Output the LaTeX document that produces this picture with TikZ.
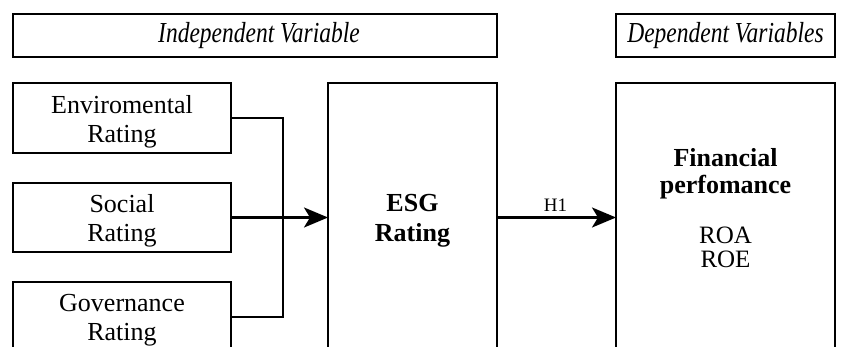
\documentclass[tikz,border=0pt]{standalone}
\usepackage{fontspec}
\setmainfont{Liberation Serif}
\newfontfamily\condit[FakeStretch=0.81]{Liberation Serif}
\usetikzlibrary{arrows.meta}
\tikzset{
  box/.style={draw, line width=2.3pt, inner sep=0pt, outer sep=0pt, fill=white},
  txt/.style={anchor=base, inner sep=0pt, font=\fontsize{26}{29}\selectfont},
  btxt/.style={anchor=base, inner sep=0pt, font=\fontsize{26}{29}\selectfont\bfseries},
  htxt/.style={anchor=base, inner sep=0pt, font=\fontsize{29}{32}\selectfont\condit\itshape},
  conn/.style={line width=2.3pt},
  arr/.style={line width=2.3pt, -{Stealth[length=24pt,width=20pt,inset=6pt]}}
}
\begin{document}
\begin{tikzpicture}[x=1pt,y=-1pt]
\useasboundingbox (0,0) rectangle (846,347);
\clip (0,0) rectangle (846,347);
% header boxes
\node[box, minimum width=484pt, minimum height=43pt] (ind) at (255,35.5) {};
\node[box, minimum width=219pt, minimum height=43pt] (dep) at (725.5,35.5) {};
\node[htxt] (indt) at (259,43) {Independent Variable};
\node[htxt] (dept) at (725.5,43) {Dependent Variables};
% left boxes
\node[box, minimum width=218pt, minimum height=70pt] (env) at (122,118) {};
\node[box, minimum width=218pt, minimum height=69pt] (soc) at (122,217.5) {};
\node[box, minimum width=218pt, minimum height=70pt] (gov) at (122,317) {};
\node[txt] (env1) at (122,114) {Enviromental};
\node[txt] (env2) at (122,143) {Rating};
\node[txt] (soc1) at (122,213) {Social};
\node[txt] (soc2) at (122,242) {Rating};
\node[txt] (gov1) at (122,312) {Governance};
\node[txt] (gov2) at (122,341) {Rating};
% ESG box
\node[box, minimum width=169pt, minimum height=269pt] (esg) at (412.5,217.5) {};
\node[btxt] (esg1) at (412.5,212) {ESG};
\node[btxt] (esg2) at (412.5,242) {Rating};
% Financial box
\node[box, minimum width=219pt, minimum height=269pt] (fin) at (725.5,217.5) {};
\node[btxt] (fin1) at (725.5,167) {Financial};
\node[btxt] (fin2) at (725.5,194) {perfomance};
\node[txt, font=\fontsize{25}{28}\selectfont] (fin3) at (725.5,244) {ROA};
\node[txt, font=\fontsize{25}{28}\selectfont] (fin4) at (725.5,268) {ROE};
% connectors
\coordinate (jn) at (283,217.5);
\draw[conn] (env.east) -| (jn) |- (gov.east);
\draw[arr] (soc.east) -- (esg.west);
\draw[arr] (esg.east) -- (fin.west);
\node[anchor=base, inner sep=0pt, font=\fontsize{19}{22}\selectfont] (h1) at (555.5,212) {H1};
\end{tikzpicture}
\end{document}
